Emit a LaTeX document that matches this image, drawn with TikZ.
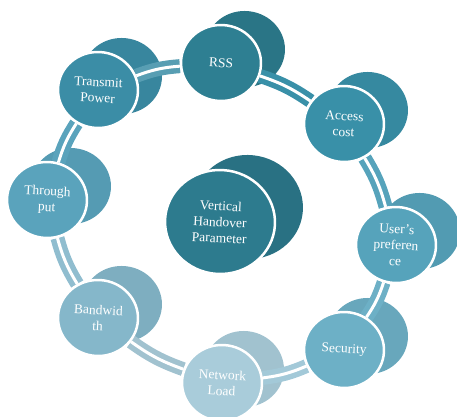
\documentclass[tikz,border=0pt]{standalone}
\usepackage{fontspec}
\setmainfont{Liberation Serif}
\usepackage{tikz}
\usetikzlibrary{shapes.geometric}
\usetikzlibrary{backgrounds}
\usepackage{xcolor}
\definecolor{cmid}{HTML}{2D7B8E}
\definecolor{crss}{HTML}{2E7F92}
\definecolor{cacc}{HTML}{3990A8}
\definecolor{cusr}{HTML}{56A3BB}
\definecolor{csec}{HTML}{6DB0C6}
\definecolor{cnet}{HTML}{A9CCDA}
\definecolor{cbwd}{HTML}{85B7CA}
\definecolor{cthr}{HTML}{5AA3BC}
\definecolor{ctrx}{HTML}{3B8DA6}
\tikzstyle{front}=[ellipse,draw=white,line width=2.5pt,minimum width=80pt,minimum height=76pt,inner sep=0,text=white,align=center,font=\fontsize{13.5}{16}\selectfont,rotate=-3]
\tikzstyle{back}=[ellipse,minimum width=80pt,minimum height=76pt,inner sep=0,rotate=-6]
\tikzstyle{band}=[line width=5.5pt,double=white,double distance=3pt]

\begin{document}
\begin{tikzpicture}[x=1pt,y=-1pt]
	\useasboundingbox (0,0) rectangle (457,416);
	% front discs
	\node[front,fill=cmid,minimum width=110pt,minimum height=104pt] (mid) at (220,222) {Vertical\\Handover\\Parameter};
	\node[front,fill=crss] (rss) at (221,63) {RSS};
	\node[front,fill=cacc] (acc) at (344,124) {Access\\cost};
	\node[front,fill=cusr] (usr) at (396,245) {User's\\preferen\\ce};
	\node[front,fill=csec] (sec) at (344,350) {Security};
	\node[front,fill=cnet] (net) at (222,383) {Network\\Load};
	\node[front,fill=cbwd] (bwd) at (98,318) {Bandwid\\th};
	\node[front,fill=cthr] (thr) at (47,200) {Through\\put};
	\node[front,fill=ctrx] (trx) at (98,90) {Transmit\\Power};
	\begin{scope}[on background layer]
	% back discs
	\node[back,fill=cmid!92!black,minimum width=110pt,minimum height=104pt] (midb) at (248,207) {};
	\node[back,fill=crss!92!black] (rssb) at (245,49) {};
	\node[back,fill=cacc!95!black] (accb) at (368,110) {};
	\node[back,fill=cusr!95!black] (usrb) at (420,231) {};
	\node[back,fill=csec!95!black] (secb) at (368,336) {};
	\node[back,fill=cnet!95!black] (netb) at (244,369) {};
	\node[back,fill=cbwd!95!black] (bwdb) at (122,304) {};
	\node[back,fill=cthr!95!black] (thrb) at (71,186) {};
	\node[back,fill=ctrx!95!black] (trxb) at (122,76) {};
	% bands
	\draw[band,draw=cacc] (rss) to[bend left=8] (acc);
	\draw[band,draw=cusr] (acc) to[bend left=8] (usr);
	\draw[band,draw=csec] (usr) to[bend left=8] (sec);
	\draw[band,draw=cnet!90!csec] (sec) to[bend left=8] (net);
	\draw[band,draw=cnet!95!black] (net) to[bend left=8] (bwd);
	\draw[band,draw=cbwd!70!cnet] (bwd) to[bend left=8] (thr);
	\draw[band,draw=cthr] (thr) to[bend left=8] (trx);
	\draw[band,draw=ctrx!85!white] (trx) to[bend left=8] (rss);
	\end{scope}
\end{tikzpicture}
\end{document}
